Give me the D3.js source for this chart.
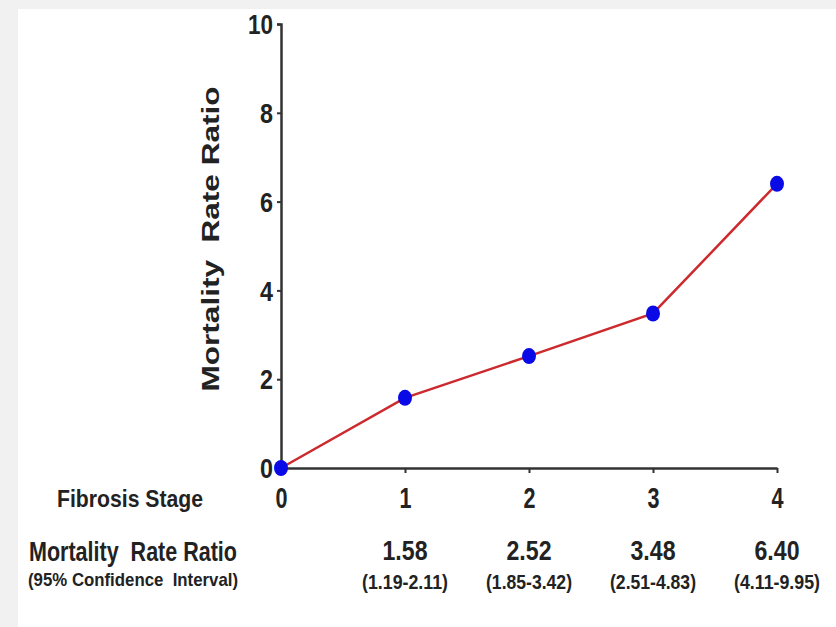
<!DOCTYPE html>
<html>
<head>
<meta charset="utf-8">
<script src="https://cdn.jsdelivr.net/npm/d3@7"></script>
<style>
  body { margin: 0; background: #fff; }
  svg text { font-family: "Liberation Sans", Arial, sans-serif; font-weight: bold; fill: #222; white-space: pre; }
</style>
</head>
<body>
<div id="chart"></div>
<script>
// data
const stages = [0, 1, 2, 3, 4];
const ratios = [0, 1.58, 2.52, 3.48, 6.40];
const ratioLabels = ["", "1.58", "2.52", "3.48", "6.40"];
const ciLabels = ["", "(1.19-2.11)", "(1.85-3.42)", "(2.51-4.83)", "(4.11-9.95)"];
const yTicks = [0, 2, 4, 6, 8, 10];

const W = 836, H = 627;
const svg = d3.select("#chart").append("svg")
    .attr("width", W)
    .attr("height", H);

// light grey frame of the screenshot
svg.append("rect").attr("width", W).attr("height", H).attr("fill", "#f1f1f1");
svg.append("rect").attr("x", 18).attr("y", 9).attr("width", W - 18).attr("height", H - 9).attr("fill", "#fff");

const x = d3.scaleLinear().domain([0, 4]).range([281, 777]);
const y = d3.scaleLinear().domain([0, 10]).range([468, 24]);

// y axis
const yAxis = svg.append("g")
    .attr("transform", `translate(${x(0)},0)`)
    .call(d3.axisLeft(y).tickValues(yTicks).tickSize(4).tickPadding(4).tickFormat(d3.format("d")));
yAxis.select(".domain").attr("stroke", "#333").attr("stroke-width", 2.5);
yAxis.selectAll(".tick line").attr("stroke", "#333").attr("stroke-width", 2);
yAxis.selectAll(".tick text").style("font-size", "27px").attr("dy", "0.36em")
    .attr("textLength", d => d === 10 ? 25 : 13).attr("lengthAdjust", "spacingAndGlyphs");

// x axis
const xAxis = svg.append("g")
    .attr("transform", `translate(0,${y(0)})`)
    .call(d3.axisBottom(x).tickValues(stages).tickSize(5).tickSizeOuter(0).tickPadding(14).tickFormat(d3.format("d")));
xAxis.select(".domain").attr("stroke", "#333").attr("stroke-width", 2.5);
xAxis.selectAll(".tick line").attr("stroke", "#333").attr("stroke-width", 2)
    .attr("display", d => d === 0 ? "none" : null);
xAxis.selectAll(".tick text").style("font-size", "30px").attr("dy", "0.71em")
    .attr("textLength", 12).attr("lengthAdjust", "spacingAndGlyphs");

// y axis title
svg.append("text")
    .attr("transform", `translate(219,239) rotate(-90)`)
    .attr("text-anchor", "middle")
    .attr("textLength", 305)
    .attr("lengthAdjust", "spacingAndGlyphs")
    .style("font-size", "24px")
    .text("Mortality  Rate Ratio");

// line and points
const line = d3.line().x((d, i) => x(stages[i])).y(d => y(d));
svg.append("path")
    .datum(ratios)
    .attr("d", line)
    .attr("fill", "none")
    .attr("stroke", "#cc2a2e")
    .attr("stroke-width", 2.5);

svg.selectAll(".dot")
    .data(ratios)
    .enter().append("ellipse")
    .attr("class", "dot")
    .attr("cx", (d, i) => x(stages[i]))
    .attr("cy", d => y(d))
    .attr("rx", 7)
    .attr("ry", 8)
    .attr("fill", "#0a0ae6");

// row labels under the axis
svg.append("text")
    .attr("x", 57).attr("y", 507)
    .attr("textLength", 146).attr("lengthAdjust", "spacingAndGlyphs")
    .style("font-size", "24px")
    .text("Fibrosis Stage");

svg.append("text")
    .attr("x", 29).attr("y", 561)
    .attr("textLength", 208).attr("lengthAdjust", "spacingAndGlyphs")
    .style("font-size", "27px")
    .text("Mortality  Rate Ratio");

svg.append("text")
    .attr("x", 28).attr("y", 586)
    .attr("textLength", 210).attr("lengthAdjust", "spacingAndGlyphs")
    .style("font-size", "19px")
    .text("(95% Confidence  Interval)");

svg.selectAll(".rr")
    .data(ratioLabels.filter(d => d))
    .enter().append("text")
    .attr("class", "rr")
    .attr("x", (d, i) => x(stages[i + 1]))
    .attr("y", 560)
    .attr("text-anchor", "middle")
    .attr("textLength", 45).attr("lengthAdjust", "spacingAndGlyphs")
    .style("font-size", "28px")
    .text(d => d);

svg.selectAll(".ci")
    .data(ciLabels.filter(d => d))
    .enter().append("text")
    .attr("class", "ci")
    .attr("x", (d, i) => x(stages[i + 1]))
    .attr("y", 589)
    .attr("text-anchor", "middle")
    .attr("textLength", 86).attr("lengthAdjust", "spacingAndGlyphs")
    .style("font-size", "20px")
    .text(d => d);
</script>
</body>
</html>
